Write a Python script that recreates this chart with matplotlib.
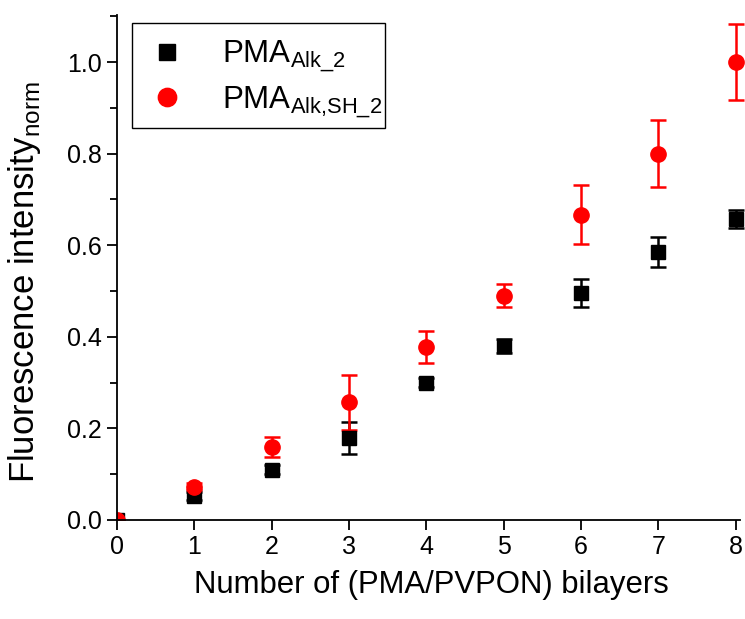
import matplotlib as mpl
mpl.use('Agg')
import matplotlib.pyplot as plt
from matplotlib.ticker import MultipleLocator, FormatStrFormatter
from matplotlib.patches import Rectangle

plt.rcParams['font.family'] = ['Liberation Sans', 'DejaVu Sans']
plt.rcParams['mathtext.fontset'] = 'custom'
plt.rcParams['mathtext.rm'] = 'Liberation Sans'

# bilayers
layers = [0, 1, 2, 3, 4, 5, 6, 7, 8]

# PMA_Alk_2 (black squares)
alk = [0.0, 0.052, 0.11, 0.18, 0.30, 0.38, 0.496, 0.585, 0.657]
alk_err = [0.0, 0.008, 0.01, 0.035, 0.01, 0.015, 0.03, 0.032, 0.02]

# PMA_Alk,SH_2 (red circles)
alksh = [0.0, 0.073, 0.16, 0.257, 0.378, 0.49, 0.667, 0.80, 1.0]
alksh_err = [0.0, 0.008, 0.022, 0.06, 0.035, 0.025, 0.065, 0.073, 0.083]

fig = plt.figure(figsize=(7.45, 6.19), dpi=100)
ax = fig.add_axes([0.157, 0.16, 0.843, 0.816])

c1 = ax.errorbar(layers, alk, yerr=alk_err, fmt='s', color='black', ms=10,
                 elinewidth=1.8, capsize=5.5, capthick=1.8)
c2 = ax.errorbar(layers, alksh, yerr=alksh_err, fmt='o', color='#ff0000', ms=11,
                 elinewidth=1.8, capsize=5.5, capthick=1.8)

ax.set_xlim(0, 8.12)
ax.set_ylim(0, 1.103)
ax.xaxis.set_major_locator(MultipleLocator(1))
ax.yaxis.set_major_locator(MultipleLocator(0.2))
ax.yaxis.set_minor_locator(MultipleLocator(0.1))
ax.yaxis.set_major_formatter(FormatStrFormatter('%.1f'))

for s in ['top', 'right']:
    ax.spines[s].set_visible(False)
for s in ['left', 'bottom']:
    ax.spines[s].set_linewidth(1.3)
ax.spines['bottom'].set_bounds(0, 8.05)

ax.tick_params(which='major', direction='out', length=7, width=1.3, labelsize=18, pad=4)
ax.tick_params(which='minor', direction='out', length=5, width=1.3)

ax.set_xlabel('Number of (PMA/PVPON) bilayers', fontsize=22.4, labelpad=8)
ax.set_ylabel(r'Fluorescence intensity$_\mathregular{norm}$', fontsize=25)
ax.yaxis.set_label_coords(-0.118, 0.47)

# legend box drawn separately so it can sit where the original one is
ax.add_patch(Rectangle((0.024, 0.776), 0.403, 0.208, transform=ax.transAxes,
                       fill=True, facecolor='white', edgecolor='black', lw=1.0,
                       zorder=4))
leg = ax.legend([c1[0], c2[0]],
                [r'PMA$_\mathregular{Alk\_2}$', r'PMA$_\mathregular{Alk{,}SH\_2}$'],
                loc='upper left', bbox_to_anchor=(0.04, 0.953), fontsize=22.5,
                frameon=False, markerscale=1.2,
                handletextpad=0.95, borderpad=0.0, labelspacing=0.32,
                handlelength=1.6, borderaxespad=0)
leg.set_zorder(5)

fig.savefig('out.png', dpi=100)
